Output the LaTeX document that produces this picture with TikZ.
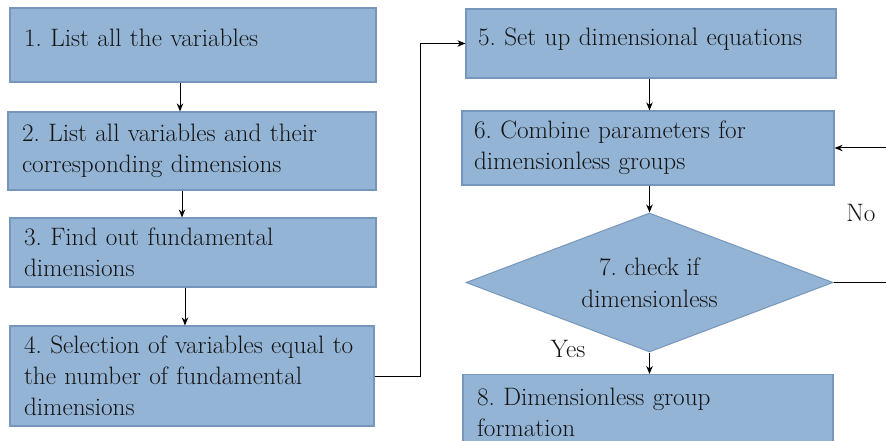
\documentclass[tikz,border=0pt]{standalone}
\usetikzlibrary{shapes.geometric,arrows.meta}
\definecolor{boxfill}{RGB}{148,180,213}
\definecolor{boxline}{RGB}{118,150,188}
\definecolor{ink}{RGB}{20,20,20}
\frenchspacing
\tikzset{
  stepbox/.style={rectangle, draw=boxline, line width=1.2pt, fill=boxfill,
    align=left, inner xsep=14pt, text=ink,
    font=\fontsize{25.2}{31}\selectfont},
  decision/.style={diamond, draw=boxline, line width=1pt, fill=boxfill,
    inner sep=0pt, align=center, text=ink, shape aspect=2.64,
    font=\fontsize{25.2}{32}\selectfont},
  arr/.style={draw=black, line width=1pt, -{Stealth[length=8pt,width=6.5pt]}},
  tag/.style={text=ink, font=\fontsize{25.2}{28}\selectfont}
}
\begin{document}
\begin{tikzpicture}[x=1pt,y=-1pt]
\clip (0,0) rectangle (886,441);
\fill[white] (0,0) rectangle (886,441);

% left column
\node[stepbox, minimum width=366pt, minimum height=74pt, text width=338pt]
  (s1) at (193,45) {1. List all the variables\\[-16pt]\mbox{}};
\node[stepbox, minimum width=368pt, minimum height=78pt, text width=340pt]
  (s2) at (192,151) {2. List all variables and their\\corresponding dimensions};
\node[stepbox, minimum width=366pt, minimum height=69pt, text width=338pt]
  (s3) at (193,252.5) {3. Find out fundamental\\dimensions};
\node[stepbox, minimum width=364pt, minimum height=100pt, text width=336pt]
  (s4) at (192,376) {4. Selection of variables equal to\\the number of fundamental\\dimensions};

% right column
\node[stepbox, minimum width=370pt, minimum height=69pt, text width=346pt, inner xsep=12pt]
  (s5) at (651,43.5) {5. Set up dimensional equations\\[-18pt]\mbox{}};
\node[stepbox, minimum width=372pt, minimum height=74pt, text width=348pt, inner xsep=12pt]
  (s6) at (648,148) {6. Combine parameters for\\dimensionless groups};
\node[decision, minimum width=367pt, minimum height=139pt]
  (s7) at (649.5,282.5) {7. check if\\dimensionless};
\node[stepbox, anchor=north, minimum width=370pt, minimum height=76pt, text width=342pt]
  (s8) at (648,374) {8. Dimensionless group\\formation};

% connectors
\draw[arr] (s1.south -| 180,0) -- (s2.north -| 180,0);
\draw[arr] (s2.south -| 182,0) -- (s3.north -| 182,0);
\draw[arr] (s3.south -| 185,0) -- (s4.north -| 185,0);
\draw[arr] (s4.east) -- ++(46,0) |- (s5.west);
\draw[arr] (s5.south -| s7.north) -- (s6.north -| s7.north);
\draw[arr] (s6.south -| s7.north) -- (s7.north);
\draw[arr] (s7.south) -- (s8.north -| s7.south);
\draw[arr] (s7.east) -- ++(70,0) |- (s6.east);

% branch labels
\node[tag] (no) at (861,213) {No};
\node[tag] (yes) at (568,349) {Yes};
\end{tikzpicture}
\end{document}
